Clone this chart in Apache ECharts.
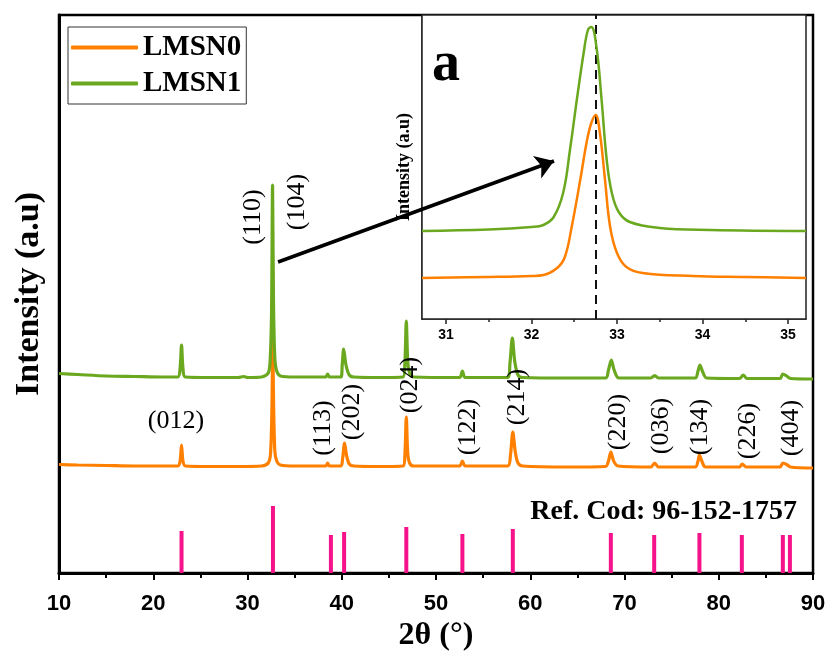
<!DOCTYPE html>
<html>
<head>
<meta charset="utf-8">
<script src="https://cdn.jsdelivr.net/npm/echarts@6/dist/echarts.min.js"></script>
<style>html,body{margin:0;padding:0;background:#fff;}#c{width:827px;height:651px;}</style>
</head>
<body>
<div id="c"></div>
<script>
// ---- data ----
const seriesNames = ['LMSN0', 'LMSN1'];
const lmsn0 = [[10,108.5],[12,108],[15,107.5],[18,107],[21,107],[22.6,107],[22.85,112],[23.0,128],[23.15,112],[23.4,107],
  [26,106.5],[29,106.5],[31.5,107],[32.2,110],[32.45,120],[32.6,170],[32.68,240],[32.76,175],[32.9,122],[33.1,112],[33.5,108],
  [35,107],[38.3,107],[38.5,110],[38.7,107],[39.9,107],[40.1,115],[40.3,130],[40.5,118],[40.8,109],[41.3,107],[44,106.5],
  [46.5,107],[46.7,118],[46.85,156],[47.0,120],[47.2,110],[47.6,107],[52.5,107],[52.8,112],[53.1,107],[57.6,107],[57.9,118],
  [58.15,141],[58.4,122],[58.7,110],[59.2,107],[64,106],[68.0,106.5],[68.3,112],[68.55,121],[68.85,112],[69.3,107],[72.8,106],
  [73.2,110],[73.6,106],[77.5,106],[77.8,112],[77.95,118],[78.2,112],[78.6,106],[82.2,106],[82.5,109],[82.9,106],[86.5,106],
  [86.8,110],[87.2,108.5],[87.6,106],[90,105]];
const lmsn1 = [[10,199.5],[12,198.5],[15,197],[18,196.5],[21,196],[22.6,196],[22.85,205],[23.0,228],[23.15,205],[23.4,196],
  [26,195.5],[29,195.5],[29.6,196.5],[30,195.5],[31.5,196],[32.2,200],[32.4,212],[32.55,260],[32.66,388],[32.76,270],[32.9,215],
  [33.1,202],[33.5,197],[35,196],[38.3,196],[38.5,199],[38.7,196],[39.9,196],[40.05,208],[40.2,224],[40.45,208],[40.8,198],
  [41.3,196],[44,195.5],[46.5,196],[46.7,210],[46.85,252],[47.0,212],[47.2,200],[47.6,196],[52.5,195.5],[52.8,202],[53.1,195.5],
  [57.6,195.5],[57.85,210],[58.1,235],[58.35,212],[58.7,198],[59.2,195.5],[64,195],[68.0,195],[68.3,203],[68.6,213],[68.9,203],
  [69.4,195],[72.8,195],[73.2,197.5],[73.6,195],[77.5,195],[77.8,202],[78.0,208],[78.3,201],[78.7,195],[82.2,194.5],[82.6,198],
  [83.0,194.5],[86.5,194.5],[86.8,199],[87.2,197],[87.6,194.5],[90,194]];
const refPos = [23.0, 32.7, 38.85, 40.25, 46.85, 52.8, 58.15, 68.55, 73.15, 77.95, 82.45, 86.8, 87.55];
const refInt = [42, 67, 38, 41, 46, 39, 44, 40, 38, 40, 38, 38, 38];
const hklLabels = ['(110)','(104)','(012)','(113)','(202)','(024)','(122)','(214)','(220)','(036)','(134)','(226)','(404)'];
const hklX = [30.58, 35.25, 22.41, 38.01, 41.09, 47.24, 53.40, 58.59, 69.31, 73.87, 78.01, 83.10, 87.67];
const hklY = [356, 371, 152, 145, 161, 188, 146, 176, 151, 147, 146, 142, 145];
const hklRot = [90, 90, 0, 90, 90, 90, 90, 90, 90, 90, 90, 90, 90];
const mainTicks = [10, 20, 30, 40, 50, 60, 70, 80, 90];
// inset (zoom of the main peak)
const inset0 = [[30.72,41],[31.5,42],[32.0,43],[32.14,44],[32.30,51],[32.39,62],[32.47,92],[32.57,139],[32.65,179],[32.70,196],
  [32.75,204],[32.80,186],[32.86,139],[32.92,92],[33.0,66],[33.11,52],[33.3,46],[33.89,43],[34.5,42],[35.21,41]];
const inset1 = [[30.72,88],[31.5,89.5],[32.0,92],[32.14,94],[32.26,102],[32.37,126],[32.45,169],[32.53,219],[32.61,266],[32.66,289],
  [32.70,292],[32.76,272],[32.82,219],[32.88,159],[32.94,126],[33.02,107],[33.15,97],[33.5,91],[34.09,89],[35.21,88]];
const insetTicks = [31, 32, 33, 34, 35];
const insetMinorTicks = [31.5, 32.5, 33.5, 34.5];
const insetRefLine = 32.75;
const arrowFrom = [33.24, 311];
const arrowTo = [62.52, 412];

// ---- chart ----
const ORANGE = '#FF8000', GREEN = '#6AA81F', MAGENTA = '#F5128A';
const SERIF = '"Liberation Serif", "Times New Roman", serif';
const SANS = '"Liberation Sans", Arial, sans-serif';
const chart = echarts.init(document.getElementById('c'), null, {renderer: 'canvas'});

const labelData = hklLabels.map((t, i) => ({value: [hklX[i], hklY[i]], name: t,
  label: {rotate: hklRot[i]}}));

chart.setOption({
  animation: false,
  backgroundColor: '#fff',
  title: [
    {text: 'a', left: 427, top: 33, z: 8, textStyle: {fontFamily: SERIF, fontWeight: 'bold', fontSize: 56, color: '#000'}},
    {text: 'Ref. Cod: 96-152-1757', right: 25, top: 493, textStyle: {fontFamily: SERIF, fontWeight: 'bold', fontSize: 28, color: '#000'}}
  ],
  legend: {
    data: seriesNames, orient: 'vertical', left: 68, top: 27,
    icon: 'roundRect', itemWidth: 67, itemHeight: 4, itemGap: 7,
    padding: [6, 5, 6, 3], borderColor: '#333', borderWidth: 1,
    textStyle: {fontFamily: SERIF, fontWeight: 'bold', fontSize: 29, color: '#000'}
  },
  grid: [
    {left: 59, top: 15, right: 14, bottom: 78, show: true, borderColor: '#000', borderWidth: 2.5,
      backgroundColor: 'transparent', containLabel: false, outerBoundsMode: 'none'},
    {left: 422, top: 15, right: 21, bottom: 332, show: true, borderColor: '#222', borderWidth: 1.5,
      backgroundColor: '#fff', z: 3, containLabel: false, outerBoundsMode: 'none'}
  ],
  xAxis: [
    {gridIndex: 0, type: 'value', min: mainTicks[0], max: mainTicks[mainTicks.length - 1], interval: 10,
      name: '2θ (°)', nameLocation: 'middle', nameGap: 45,
      nameTextStyle: {fontFamily: SERIF, fontWeight: 'bold', fontSize: 32, color: '#000'},
      axisLine: {lineStyle: {color: '#000', width: 3}},
      axisTick: {inside: false, length: 7, lineStyle: {color: '#000', width: 2}},
      minorTick: {show: true, splitNumber: 2, length: 5, lineStyle: {color: '#000', width: 2}},
      splitLine: {show: false},
      axisLabel: {margin: 20, fontFamily: SANS, fontWeight: 'bold', fontSize: 22, color: '#000'}},
    {gridIndex: 1, type: 'value', position: 'bottom', min: 30.72, max: 35.21,
      axisLine: {lineStyle: {color: '#222', width: 1.5}},
      axisTick: {inside: false, length: 5, customValues: insetTicks, lineStyle: {color: '#222', width: 1.5}},
      splitLine: {show: false},
      axisLabel: {customValues: insetTicks, margin: 9, fontFamily: SANS, fontWeight: 'bold', fontSize: 14, color: '#000'}},
    {gridIndex: 1, type: 'value', position: 'bottom', min: 30.72, max: 35.21,
      axisLine: {show: false},
      axisTick: {inside: false, length: 3, customValues: insetMinorTicks, lineStyle: {color: '#222', width: 1.5}},
      splitLine: {show: false}, axisLabel: {show: false}}
  ],
  yAxis: [
    {gridIndex: 0, type: 'value', min: 0, max: 558,
      name: 'Intensity (a.u)', nameLocation: 'middle', nameGap: 13,
      nameTextStyle: {fontFamily: SERIF, fontWeight: 'bold', fontSize: 34, color: '#000'},
      axisLine: {show: true, lineStyle: {color: '#000', width: 3}},
      axisTick: {show: false}, axisLabel: {show: false}, splitLine: {show: false}},
    {gridIndex: 1, type: 'value', min: 0, max: 304,
      name: 'Intensity (a.u)', nameLocation: 'middle', nameGap: 9,
      nameTextStyle: {fontFamily: SERIF, fontWeight: 'bold', fontSize: 18, color: '#000'},
      axisLine: {show: true, lineStyle: {color: '#222', width: 1.5}},
      axisTick: {show: false}, axisLabel: {show: false}, splitLine: {show: false}}
  ],
  series: [
    {name: 'LMSN0', type: 'line', xAxisIndex: 0, yAxisIndex: 0, data: lmsn0, showSymbol: false, smooth: 0.3,
      lineStyle: {color: ORANGE, width: 3.2}, itemStyle: {color: ORANGE}, z: 2},
    {name: 'LMSN1', type: 'line', xAxisIndex: 0, yAxisIndex: 0, data: lmsn1, showSymbol: false, smooth: 0.3,
      lineStyle: {color: GREEN, width: 3.2}, itemStyle: {color: GREEN}, z: 2},
    {name: 'ref', type: 'bar', xAxisIndex: 0, yAxisIndex: 0, barWidth: 4,
      data: refPos.map((p, i) => [p, refInt[i]]), itemStyle: {color: MAGENTA}, z: 2},
    {name: 'LMSN0 inset', type: 'line', xAxisIndex: 1, yAxisIndex: 1, data: inset0, showSymbol: false, smooth: 0.4,
      lineStyle: {color: ORANGE, width: 2.5}, itemStyle: {color: ORANGE}, z: 5,
      markLine: {silent: true, symbol: 'none', label: {show: false},
        lineStyle: {color: '#111', width: 2, type: [9, 6]}, data: [{xAxis: insetRefLine}]}},
    {name: 'LMSN1 inset', type: 'line', xAxisIndex: 1, yAxisIndex: 1, data: inset1, showSymbol: false, smooth: 0.4,
      lineStyle: {color: GREEN, width: 2.5}, itemStyle: {color: GREEN}, z: 5},
    {name: 'hkl', type: 'scatter', xAxisIndex: 0, yAxisIndex: 0, data: labelData, symbolSize: 1,
      itemStyle: {color: 'rgba(0,0,0,0)', opacity: 1}, silent: true, z: 7,
      label: {show: true, position: 'inside', formatter: p => p.name, fontFamily: SERIF, fontSize: 26, color: '#000'},
      markLine: {silent: true, symbol: ['none', 'arrow'], symbolSize: 18,
        lineStyle: {color: '#000', width: 3.5, type: 'solid'}, label: {show: false},
        data: [[{coord: arrowFrom}, {coord: arrowTo}]]}}
  ]
});
</script>
</body>
</html>
